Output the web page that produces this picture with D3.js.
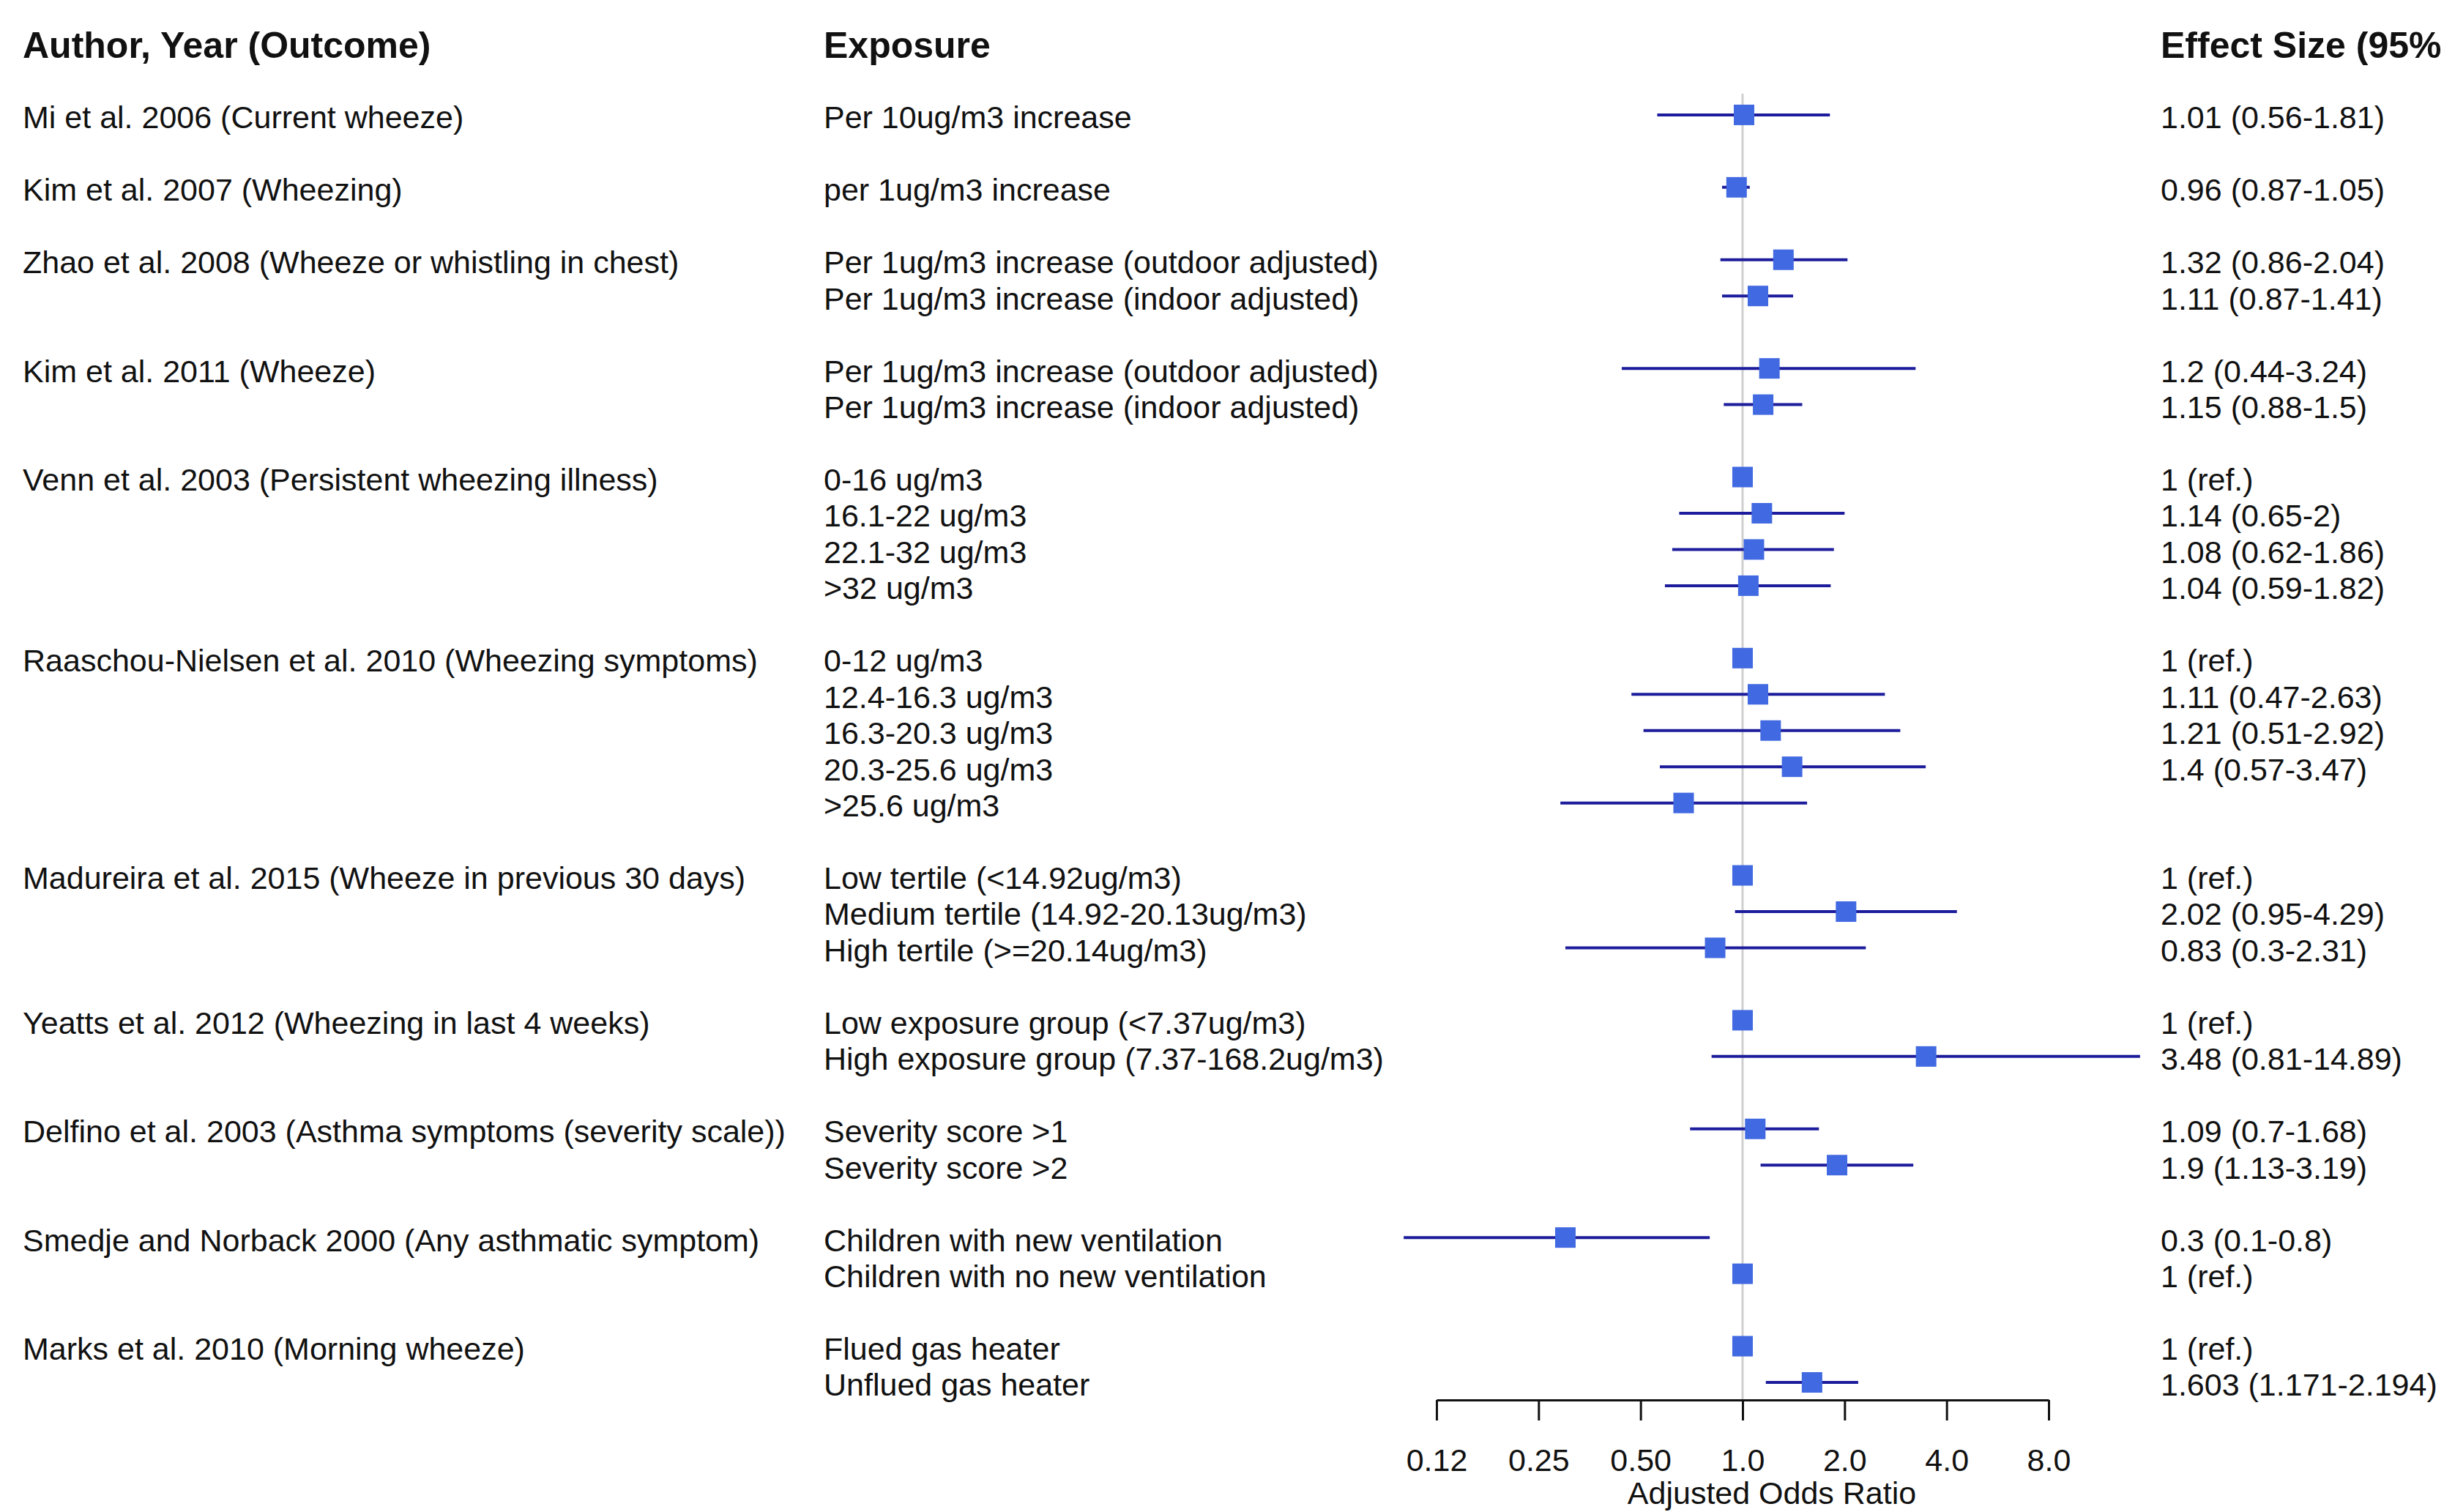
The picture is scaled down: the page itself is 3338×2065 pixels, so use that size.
<!DOCTYPE html>
<html>
<head>
<meta charset="utf-8">
<script src="https://cdn.jsdelivr.net/npm/d3@7"></script>
<style>
  html, body { margin: 0; padding: 0; background: #fff; }
  text { font-family: "Liberation Sans", Arial, sans-serif; fill: #111; }
</style>
</head>
<body>
<div id="chart"></div>
<script>
// forest plot - adjusted odds ratios of wheeze by exposure

// row index of each line (gaps between studies are empty rows)
const rowIndex = [0, 2, 4, 5, 7, 8, 10, 11, 12, 13, 15, 16, 17, 18, 19, 21, 22, 23, 25, 26, 28, 29, 31, 32, 34, 35];

const studies = [
  "Mi et al. 2006 (Current wheeze)", "Kim et al. 2007 (Wheezing)",
  "Zhao et al. 2008 (Wheeze or whistling in chest)", "",
  "Kim et al. 2011 (Wheeze)", "",
  "Venn et al. 2003 (Persistent wheezing illness)", "", "", "",
  "Raaschou-Nielsen et al. 2010 (Wheezing symptoms)", "", "", "", "",
  "Madureira et al. 2015 (Wheeze in previous 30 days)", "", "",
  "Yeatts et al. 2012 (Wheezing in last 4 weeks)", "",
  "Delfino et al. 2003 (Asthma symptoms (severity scale))", "",
  "Smedje and Norback 2000 (Any asthmatic symptom)", "",
  "Marks et al. 2010 (Morning wheeze)", ""
];

const exposures = [
  "Per 10ug/m3 increase", "per 1ug/m3 increase",
  "Per 1ug/m3 increase (outdoor adjusted)", "Per 1ug/m3 increase (indoor adjusted)",
  "Per 1ug/m3 increase (outdoor adjusted)", "Per 1ug/m3 increase (indoor adjusted)",
  "0-16 ug/m3", "16.1-22 ug/m3", "22.1-32 ug/m3", ">32 ug/m3",
  "0-12 ug/m3", "12.4-16.3 ug/m3", "16.3-20.3 ug/m3", "20.3-25.6 ug/m3", ">25.6 ug/m3",
  "Low tertile (<14.92ug/m3)", "Medium tertile (14.92-20.13ug/m3)", "High tertile (>=20.14ug/m3)",
  "Low exposure group (<7.37ug/m3)", "High exposure group (7.37-168.2ug/m3)",
  "Severity score >1", "Severity score >2",
  "Children with new ventilation", "Children with no new ventilation",
  "Flued gas heater", "Unflued gas heater"
];

const oddsRatio = [1.01, 0.96, 1.32, 1.11, 1.2, 1.15, 1, 1.14, 1.08, 1.04,
  1, 1.11, 1.21, 1.4, 0.67, 1, 2.02, 0.83, 1, 3.48, 1.09, 1.9, 0.3, 1, 1, 1.603];
const lower = [0.56, 0.87, 0.86, 0.87, 0.44, 0.88, 1, 0.65, 0.62, 0.59,
  1, 0.47, 0.51, 0.57, 0.29, 1, 0.95, 0.3, 1, 0.81, 0.7, 1.13, 0.1, 1, 1, 1.171];
const upper = [1.81, 1.05, 2.04, 1.41, 3.24, 1.5, 1, 2, 1.86, 1.82,
  1, 2.63, 2.92, 3.47, 1.55, 1, 4.29, 2.31, 1, 14.89, 1.68, 3.19, 0.8, 1, 1, 2.194];

const effectLabels = [
  "1.01 (0.56-1.81)", "0.96 (0.87-1.05)", "1.32 (0.86-2.04)", "1.11 (0.87-1.41)",
  "1.2 (0.44-3.24)", "1.15 (0.88-1.5)",
  "1 (ref.)", "1.14 (0.65-2)", "1.08 (0.62-1.86)", "1.04 (0.59-1.82)",
  "1 (ref.)", "1.11 (0.47-2.63)", "1.21 (0.51-2.92)", "1.4 (0.57-3.47)", "",
  "1 (ref.)", "2.02 (0.95-4.29)", "0.83 (0.3-2.31)",
  "1 (ref.)", "3.48 (0.81-14.89)",
  "1.09 (0.7-1.68)", "1.9 (1.13-3.19)",
  "0.3 (0.1-0.8)", "1 (ref.)",
  "1 (ref.)", "1.603 (1.171-2.194)"
];

const headers = ["Author, Year (Outcome)", "Exposure", "Effect Size (95%"];
const tickValues = [0.125, 0.25, 0.5, 1, 2, 4, 8];
const tickLabels = ["0.12", "0.25", "0.50", "1.0", "2.0", "4.0", "8.0"];
const xLabel = "Adjusted Odds Ratio";

const W = 3338, H = 2065;
const fs = 43, fsHead = 50;
const colX = [31, 1125, 2951];
const boxSize = 28;

const data = rowIndex.map((r, i) => ({
  row: r, study: studies[i], exposure: exposures[i],
  or: oddsRatio[i], lo: lower[i], hi: upper[i], label: effectLabels[i]
}));

const svg = d3.select("#chart").append("svg")
  .attr("width", W).attr("height", H);

// rows -> y (header sits two rows above the first line)
const y = d3.scaleLinear().domain([-2, 35]).range([61, 1891]);
// log2 scale for odds ratios
const x = d3.scaleLog().base(2).domain([0.125, 8]).range([1962, 2798]);
const axisY = 1912;

// reference line at OR = 1
svg.append("line")
  .attr("x1", x(1)).attr("x2", x(1))
  .attr("y1", 128).attr("y2", axisY)
  .attr("stroke", "#cfcfcf").attr("stroke-width", 3);

// header
svg.append("g").selectAll("text")
  .data(headers).enter().append("text")
  .attr("x", (d, i) => colX[i])
  .attr("y", y(-2) + fsHead * 0.358)
  .attr("font-size", fsHead)
  .attr("font-weight", "bold")
  .text(d => d);

// text columns
const cols = ["study", "exposure", "label"];
cols.forEach((c, ci) => {
  svg.append("g").selectAll("text")
    .data(data.filter(d => d[c] !== "")).enter().append("text")
    .attr("x", colX[ci])
    .attr("y", d => y(d.row) + fs * 0.358)
    .attr("font-size", fs)
    .text(d => d[c]);
});

// confidence intervals
const marks = svg.append("g").attr("transform", "translate(0,-3)");
marks.selectAll("line.ci")
  .data(data.filter(d => d.hi > d.lo)).enter().append("line")
  .attr("class", "ci")
  .attr("x1", d => x(d.lo)).attr("x2", d => x(d.hi))
  .attr("y1", d => y(d.row)).attr("y2", d => y(d.row))
  .attr("stroke", "#1c1c9c").attr("stroke-width", 4);

// point estimates
marks.selectAll("rect")
  .data(data).enter().append("rect")
  .attr("x", d => x(d.or) - boxSize / 2)
  .attr("y", d => y(d.row) - boxSize / 2)
  .attr("width", boxSize).attr("height", boxSize)
  .attr("fill", "#4169e1");

// x axis
const axis = svg.append("g")
  .attr("transform", "translate(0," + axisY + ")")
  .call(d3.axisBottom(x)
    .tickValues(tickValues)
    .tickFormat((d, i) => tickLabels[i])
    .tickSize(28).tickSizeOuter(0).tickPadding(38));
axis.select(".domain").attr("stroke", "#111").attr("stroke-width", 3);
axis.selectAll(".tick line").attr("stroke", "#111").attr("stroke-width", 3);
axis.selectAll(".tick text")
  .attr("font-size", fs)
  .attr("font-family", "Liberation Sans, Arial, sans-serif")
  .attr("fill", "#111");

// axis title centred on the span of the intervals
const gMin = d3.min(lower), gMax = d3.max(upper);
svg.append("text")
  .attr("x", (x(gMin) + x(gMax)) / 2)
  .attr("y", 2054)
  .attr("text-anchor", "middle")
  .attr("font-size", fs)
  .text(xLabel);
</script>
</body>
</html>
